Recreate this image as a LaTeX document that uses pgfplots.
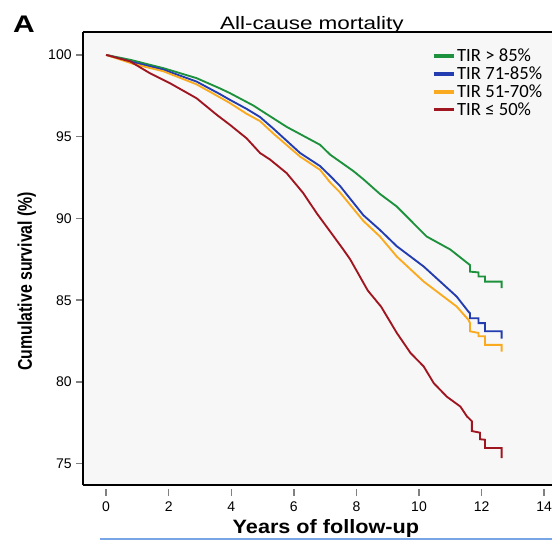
\documentclass[border=0pt]{standalone}
\usepackage{pgfplots}
\pgfplotsset{compat=1.18}
\usepackage{fontspec}
\setmainfont{Liberation Sans}
\newfontfamily\carlito{Carlito}

\definecolor{cgreen}{RGB}{30,145,60}
\definecolor{cblue}{RGB}{35,60,175}
\definecolor{corange}{RGB}{250,170,30}
\definecolor{cred}{RGB}{160,22,32}
\definecolor{plotbg}{RGB}{247,247,247}

\begin{document}
\begin{tikzpicture}
\useasboundingbox (-62.25pt,-42.75pt) rectangle (351.9pt,363.9pt);
\begin{axis}[
  at={(0,0)}, anchor=south west,
  scale only axis,
  x=23.475pt, y=12.27pt,
  xmin=-0.74, xmax=14.25,
  ymin=73.7, ymax=101.4,
  axis x line*=bottom, axis y line*=left,
  axis line style={line width=1.1pt},
  axis background/.style={fill=plotbg},
  xtick={0,2,...,14}, ytick={75,80,...,100},
  tick align=outside,
  xtick style={line width=1.1pt, yshift=-3pt},
  ytick style={line width=1.1pt},
  major tick length=5pt,
  tick label style={font=\fontsize{10.5}{12}\selectfont},
  xticklabel style={yshift=-4pt},
  /pgf/number format/assume math mode=true,
  xlabel={Years of follow-up},
  ylabel={\scalebox{1}[1.25]{Cumulative survival (\%)}},
  xlabel style={font=\fontsize{14.5}{17}\selectfont\bfseries, xscale=1.12, at={(axis description cs:0.518,-0.097)}, anchor=center},
  ylabel style={font=\fontsize{11.9}{14}\selectfont\bfseries, at={(axis description cs:-0.12,0.45)}, anchor=center},
  legend style={at={(0.735,0.974)}, anchor=north west, draw=none, fill=none,
    font=\carlito\fontsize{14}{15}\selectfont, row sep=-0.6pt,
    nodes={inner sep=1.5pt}},
  legend cell align=left,
  legend image code/.code={\draw[#1, line width=2.4pt] (0pt,0pt) -- (15pt,0pt);},
  every axis plot/.append style={line width=1.4pt, line join=miter},
]
\addplot[cgreen] coordinates {
(0,100) (0.77,99.7) (1.83,99.19) (2.89,98.58) (3.64,97.95) (3.96,97.66)
(4.71,96.9) (4.92,96.64) (5.77,95.6) (6.84,94.5) (7.16,93.9) (7.9,92.9)
(8.22,92.4) (8.75,91.5) (9.29,90.73) (10.24,88.9) (11.0,88.1) (11.53,87.3)
(11.63,87.15) (11.63,86.75) (11.9,86.7) (11.9,86.45) (12.11,86.45)
(12.11,86.14) (12.64,86.14) (12.64,85.74)};
\addplot[cblue] coordinates {
(0,100) (0.87,99.55) (1.83,99.1) (2.89,98.37) (3.64,97.6) (3.96,97.25)
(4.49,96.7) (4.92,96.2) (5.34,95.5) (6.2,94.0) (6.84,93.2) (7.16,92.6)
(7.47,92.0) (8.22,90.2) (8.75,89.3) (9.29,88.3) (10.15,87.06) (11.2,85.23)
(11.58,84.3) (11.63,84.2) (11.63,83.9) (11.9,83.9) (11.9,83.6) (12.11,83.6)
(12.11,83.1) (12.64,83.1) (12.64,82.65)};
\addplot[corange] coordinates {
(0,100) (0.87,99.45) (1.83,99.0) (2.89,98.2) (3.64,97.4) (3.96,97.05)
(4.49,96.4) (4.92,95.95) (5.34,95.2) (6.2,93.78) (6.84,92.97) (7.16,92.2)
(7.47,91.6) (8.22,89.85) (8.75,88.9) (9.29,87.67) (10.15,86.14) (11.2,84.62)
(11.58,83.8) (11.63,83.6) (11.63,83.1) (11.9,83.0) (11.9,82.8) (12.11,82.8)
(12.11,82.27) (12.64,82.27) (12.64,81.85)};
\addplot[cred] coordinates {
(0,100) (0.77,99.6) (1.4,98.88) (2.04,98.27) (2.89,97.35) (3.54,96.33)
(3.96,95.72) (4.49,94.9) (4.92,94.0) (5.24,93.6) (5.77,92.77) (6.3,91.55)
(6.73,90.32) (7.16,89.2) (7.58,88.1) (7.8,87.5) (8.36,85.6) (8.79,84.6)
(9.29,83.0) (9.73,81.77) (10.15,80.95) (10.47,79.93) (10.89,79.1)
(11.32,78.5) (11.53,77.9) (11.69,77.6) (11.69,77.0) (11.95,76.9)
(11.95,76.5) (12.11,76.47) (12.11,75.96) (12.64,75.96) (12.64,75.35)};
\legend{TIR > 85\%, TIR 71-85\%, TIR 51-70\%, TIR ≤ 50\%}
\end{axis}
\draw[line width=1.1pt] (0,339.9pt) -- (351.9pt,339.9pt);
\node[font=\fontsize{13.5}{15}\selectfont, xscale=1.25] at (171.75pt,345pt) {All-cause mortality};
\node[font=\fontsize{18}{20}\selectfont\bfseries, xscale=1.25] at (-44.25pt,345.4pt) {A};
\draw[line width=0.8pt, color={rgb,255:red,120;green,165;blue,230}] (12.75pt,-40.5pt) -- (351.9pt,-40.5pt);
\end{tikzpicture}
\end{document}
